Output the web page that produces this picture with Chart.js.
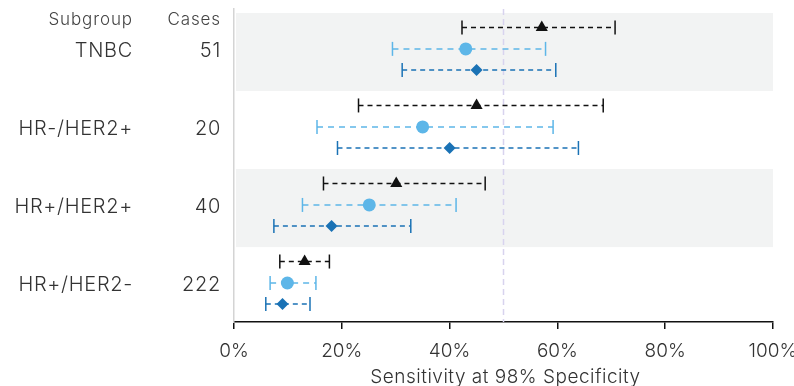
<!DOCTYPE html>
<html>
<head>
<meta charset="utf-8">
<script src="https://cdn.jsdelivr.net/npm/chart.js@4.4.1/dist/chart.umd.min.js"></script>
<style>
  html, body { margin: 0; padding: 0; background: #fff; }
  #wrap { width: 794px; height: 386px; position: relative; }
</style>
</head>
<body>
<div id="wrap"><canvas id="chart"></canvas></div>
<script>
// --- data ---
const subgroups = ['TNBC', 'HR-/HER2+', 'HR+/HER2+', 'HR+/HER2-'];
const cases = ['51', '20', '40', '222'];
const xTicks = [0, 20, 40, 60, 80, 100];
const refLine = 50;

// series 1 (black triangles)
const blackEst = [57.1, 45.0, 30.1, 13.1];
const blackLo  = [42.3, 23.1, 16.6, 8.5];
const blackHi  = [70.7, 68.5, 46.6, 17.7];
// series 2 (light blue circles)
const lightEst = [43.0, 35.0, 25.1, 9.9];
const lightLo  = [29.4, 15.4, 12.7, 6.7];
const lightHi  = [57.8, 59.2, 41.2, 15.2];
// series 3 (dark blue diamonds)
const darkEst = [45.0, 40.0, 18.1, 9.0];
const darkLo  = [31.2, 19.2, 7.4, 5.9];
const darkHi  = [59.7, 63.9, 32.8, 14.1];

// --- layout / style ---
const FONT = 'Inter, "Open Sans", sans-serif';
const rowOffset = [0.185, 0.46, 0.73];
const series = [
  { est: blackEst, lo: blackLo, hi: blackHi, color: '#111111', dash: [5, 4], style: 'triangle', r: 7 },
  { est: lightEst, lo: lightLo, hi: lightHi, color: '#5db6e8', dash: [6, 5], style: 'circle', r: 6.5 },
  { est: darkEst,  lo: darkLo,  hi: darkHi,  color: '#1a72b5', dash: [5, 4], style: 'rectRot', r: 6 }
];

const datasets = [];
series.forEach((s, si) => {
  subgroups.forEach((g, gi) => {
    const y = gi + rowOffset[si];
    datasets.push({
      type: 'line',
      data: [{ x: s.lo[gi], y: y }, { x: s.hi[gi], y: y }],
      borderColor: s.color,
      borderWidth: 1.5,
      borderDash: s.dash,
      pointStyle: 'line',
      rotation: 90,
      pointRadius: 7,
      pointBorderColor: s.color,
      pointBorderWidth: 1.5,
      order: 2
    });
  });
  datasets.push({
    type: 'scatter',
    data: s.est.map((v, gi) => ({ x: v, y: gi + rowOffset[si] })),
    pointStyle: s.style,
    pointRadius: s.r,
    backgroundColor: s.color,
    borderColor: s.color,
    borderWidth: 0,
    order: 0
  });
});

// shaded bands, reference line, left-hand table and axis title
const decor = {
  id: 'decor',
  beforeDatasetsDraw(chart) {
    const { ctx, chartArea, scales } = chart;
    const x = scales.x, y = scales.y;
    ctx.save();
    ctx.fillStyle = '#f2f3f3';
    subgroups.forEach((g, i) => {
      if (i % 2 !== 0) return;
      const top = y.getPixelForValue(i);
      const bot = y.getPixelForValue(i + 1);
      ctx.fillRect(chartArea.left + 2, top, chartArea.right - chartArea.left - 2, bot - top);
    });
    const rx = x.getPixelForValue(refLine);
    ctx.strokeStyle = '#d8d3ee';
    ctx.lineWidth = 1.5;
    ctx.setLineDash([6, 4]);
    ctx.beginPath();
    ctx.moveTo(rx, chartArea.top);
    ctx.lineTo(rx, chartArea.bottom);
    ctx.stroke();
    ctx.restore();
  },
  afterDraw(chart) {
    const { ctx, scales, chartArea } = chart;
    const y = scales.y;
    ctx.save();
    ctx.textAlign = 'right';
    ctx.textBaseline = 'middle';
    ctx.fillStyle = '#444';
    ctx.font = '300 17px ' + FONT;
    ctx.letterSpacing = '0.9px';
    const hy = y.getPixelForValue(0.09);
    ctx.fillText('Subgroup', 133, hy);
    ctx.fillText('Cases', 221, hy);
    ctx.fillStyle = '#333';
    ctx.font = '300 20px ' + FONT;
    ctx.letterSpacing = '0.7px';
    subgroups.forEach((g, i) => {
      const ly = y.getPixelForValue(i + rowOffset[1]) + 2;
      ctx.fillText(g, 133, ly);
      ctx.fillText(cases[i], 221, ly);
    });
    ctx.textAlign = 'center';
    ctx.font = '300 19px ' + FONT;
    ctx.letterSpacing = '0.5px';
    ctx.fillText('Sensitivity at 98% Specificity', (chartArea.left + chartArea.right) / 2 + 2, 377);
    ctx.restore();
  }
};

new Chart(document.getElementById('chart'), {
  data: { datasets: datasets },
  options: {
    responsive: true,
    maintainAspectRatio: false,
    animation: false,
    layout: { padding: { top: 9, right: 21, left: 0, bottom: 0 } },
    plugins: { legend: { display: false }, tooltip: { enabled: false } },
    scales: {
      x: {
        type: 'linear',
        min: 0,
        max: 100,
        afterBuildTicks: (s) => { s.ticks = xTicks.map(v => ({ value: v })); },
        afterFit: (s) => { s.height = 64; s.paddingLeft = 0; s.paddingRight = 0; },
        ticks: {
          callback: (v) => v + '%',
          color: '#333',
          font: { family: FONT, size: 19, weight: 300 },
          padding: 11,
          maxRotation: 0
        },
        grid: { display: true, drawOnChartArea: false, drawTicks: true, tickLength: 7, color: '#111', lineWidth: 1.5 },
        border: { display: true, color: '#111', width: 1.5 }
      },
      y: {
        type: 'linear',
        min: -0.051,
        max: 3.96,
        reverse: true,
        afterFit: (s) => { s.width = 234; },
        ticks: { display: false },
        grid: { display: false },
        border: { display: true, color: '#d4d4d4', width: 1.5 }
      }
    }
  },
  plugins: [decor]
});
</script>
</body>
</html>
